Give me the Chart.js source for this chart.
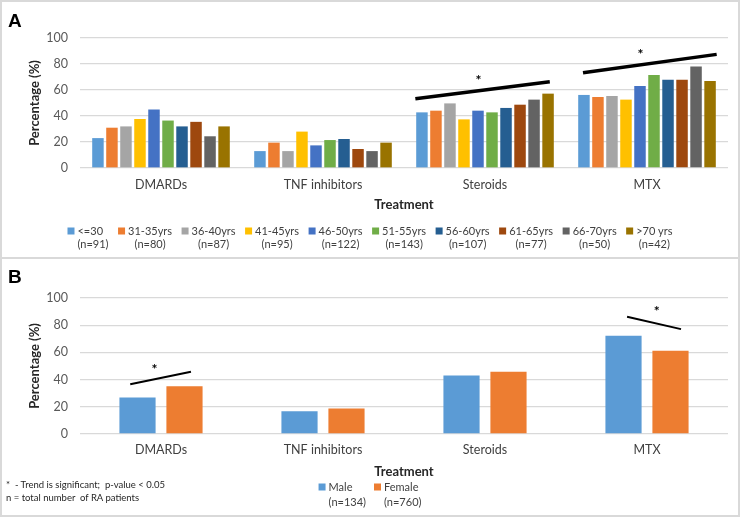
<!DOCTYPE html>
<html>
<head>
<meta charset="utf-8">
<script src="https://cdn.jsdelivr.net/npm/chart.js@4.4.1/dist/chart.umd.min.js"></script>
<style>
  body { margin: 0; background: #fff; }
  #fig { position: relative; width: 740px; height: 517px; background: #d9d9d9; overflow: hidden; font-family: Lato, sans-serif; }
  .panel { position: absolute; left: 2px; width: 736px; background: #fff; }
  #pa { top: 2px; height: 255px; }
  #pb { top: 259px; height: 256px; }
  .tag { position: absolute; left: 6px; font: bold 19px "Liberation Sans", Arial, sans-serif; line-height: 19px; color: #000; }
  .note { position: absolute; left: 4px; font-size: 9.5px; line-height: 12px; color: #262626; white-space: pre; }
</style>
</head>
<body>
<div id="fig">
  <div class="panel" id="pa">
    <canvas id="chartA" width="736" height="255"></canvas>
    <div class="tag" style="top:9px">A</div>
  </div>
  <div class="panel" id="pb">
    <canvas id="chartB" width="736" height="256"></canvas>
    <div class="tag" style="top:8px">B</div>
    <div class="note" style="top:220px">*  - Trend is significant;  p-value &lt; 0.05</div>
    <div class="note" style="top:233px">n = total number  of RA patients</div>
  </div>
</div>
<script>
// categories
const treatments = ['DMARDs', 'TNF inhibitors', 'Steroids', 'MTX'];

// panel A: age groups
const ageGroups = ['<=30', '31-35yrs', '36-40yrs', '41-45yrs', '46-50yrs', '51-55yrs', '56-60yrs', '61-65yrs', '66-70yrs', '>70 yrs'];
const ageCounts = ['(n=91)', '(n=80)', '(n=87)', '(n=95)', '(n=122)', '(n=143)', '(n=107)', '(n=77)', '(n=50)', '(n=42)'];
const ageColors = ['#5B9BD5', '#ED7D31', '#A5A5A5', '#FFC000', '#4472C4', '#70AD47', '#255E91', '#9E480E', '#636363', '#997300'];
const ageValues = [
  [23, 13, 42.8, 56.2],
  [31, 19.5, 44.1, 54.6],
  [32, 13, 49.7, 55.4],
  [37.7, 28, 37.4, 52.6],
  [45, 17.4, 44.1, 63.1],
  [36.5, 21.5, 42.8, 71.5],
  [32, 22.3, 46.2, 67.9],
  [35.5, 14.6, 48.7, 67.9],
  [24.4, 13, 52.6, 78],
  [32, 19.5, 57.2, 66.9]
];

// panel B: sex
const sexGroups = ['Male', 'Female'];
const sexCounts = ['(n=134)', '(n=760)'];
const sexColors = ['#5B9BD5', '#ED7D31'];
const sexValues = [
  [26.8, 16.7, 43, 72.2],
  [35.1, 18.7, 45.7, 61.2]
];

// significant trends (category index, offsets in category units, values in %)
const trendsA = [
  { cat: 2, x1: -0.43, x2: 0.40, y1: 53.3, y2: 66.4, sx: -0.04, sy: 67 },
  { cat: 3, x1: -0.395, x2: 0.43, y1: 73.3, y2: 87.4, sx: -0.04, sy: 87.5 }
];
const trendsB = [
  { cat: 0, x1: -0.19, x2: 0.185, y1: 36.6, y2: 45.7, sx: -0.04, sy: 47.5 },
  { cat: 3, x1: -0.123, x2: 0.21, y1: 86.2, y2: 77.1, sx: 0.06, sy: 90 }
];

const yTicks = { min: 0, max: 100, step: 20 };

function trendPlugin(lines, width) {
  return {
    id: 'trend',
    afterDatasetsDraw(chart) {
      const { ctx, scales: { x, y } } = chart;
      ctx.save();
      ctx.strokeStyle = '#000';
      ctx.lineWidth = width;
      lines.forEach(t => {
        ctx.beginPath();
        ctx.moveTo(x.getPixelForValue(t.cat + t.x1), y.getPixelForValue(t.y1));
        ctx.lineTo(x.getPixelForValue(t.cat + t.x2), y.getPixelForValue(t.y2));
        ctx.stroke();
        ctx.fillStyle = '#000';
        ctx.font = 'bold 14px Lato';
        ctx.textAlign = 'center';
        ctx.textBaseline = 'middle';
        ctx.fillText('*', x.getPixelForValue(t.cat + t.sx), y.getPixelForValue(t.sy));
      });
      ctx.restore();
    }
  };
}

// two-line legend (label + n) centred under the chart
function rowLegend(counts, row1, row2, spacing) {
  return {
    id: 'rowLegend',
    afterDraw(chart) {
      const ctx = chart.ctx;
      ctx.save();
      ctx.font = '11px Lato';
      const box = 7, gap = 3;
      const items = chart.data.datasets.map((d, i) => ({
        d: d,
        n: counts[i],
        w: Math.max(ctx.measureText(d.label).width, ctx.measureText(counts[i]).width)
      }));
      const total = items.reduce((s, it) => s + box + gap + it.w, 0) + spacing * (items.length - 1);
      let x = chart.width / 2 - total / 2;
      items.forEach(it => {
        ctx.fillStyle = it.d.backgroundColor;
        ctx.fillRect(x, row1 - box / 2, box, box);
        ctx.fillStyle = '#404040';
        ctx.textBaseline = 'middle';
        ctx.textAlign = 'left';
        ctx.fillText(it.d.label, x + box + gap, row1);
        ctx.textAlign = 'center';
        ctx.fillText(it.n, x + box + gap + it.w / 2, row2);
        x += box + gap + it.w + spacing;
      });
      ctx.restore();
    }
  };
}

function makeChart(id, labels, values, colors, cfg) {
  const datasets = labels.map((l, i) => ({
    label: l,
    data: values[i],
    backgroundColor: colors[i],
    categoryPercentage: cfg.catPct,
    barPercentage: cfg.barPct
  }));
  return new Chart(document.getElementById(id).getContext('2d'), {
    type: 'bar',
    data: { labels: treatments, datasets: datasets },
    options: {
      responsive: false,
      animation: false,
      layout: { padding: { left: 0, right: 10, top: cfg.top, bottom: 0 } },
      plugins: { legend: { display: false }, tooltip: { enabled: false } },
      scales: {
        x: {
          grid: { display: false, drawTicks: false },
          border: { display: false },
          ticks: { padding: cfg.tickPad, color: '#404040', font: { family: 'Lato', size: 12.5 } },
          title: {
            display: true,
            text: 'Treatment',
            color: '#262626',
            font: { family: 'Lato', size: 13, weight: 'bold' },
            padding: { top: 0, bottom: cfg.titlePad }
          },
          afterFit(s) { s.height = cfg.xHeight; }
        },
        y: {
          min: yTicks.min,
          max: yTicks.max,
          ticks: { stepSize: yTicks.step, padding: 12, color: '#595959', font: { family: 'Lato', size: 12.5 } },
          grid: { color: '#d9d9d9', lineWidth: 1.3, drawTicks: false },
          border: { display: false },
          title: {
            display: true,
            text: 'Percentage (%)',
            color: '#262626',
            font: { family: 'Lato', size: 13, weight: 'bold' },
            padding: { top: 25, bottom: 0 }
          },
          afterFit(s) { s.width = 78; }
        }
      }
    },
    plugins: [trendPlugin(cfg.trends, cfg.lineW), rowLegend(cfg.counts, cfg.row1, cfg.row2, cfg.spacing)]
  });
}

makeChart('chartA', ageGroups, ageValues, ageColors, {
  catPct: 0.865, barPct: 0.82, top: 36, tickPad: 9, titlePad: 44, xHeight: 89,
  trends: trendsA, lineW: 3.5, counts: ageCounts, row1: 229, row2: 242, spacing: 9.5
});
makeChart('chartB', sexGroups, sexValues, sexColors, {
  catPct: 0.58, barPct: 0.77, top: 39, tickPad: 8, titlePad: 35, xHeight: 81,
  trends: trendsB, lineW: 2, counts: sexCounts, row1: 228, row2: 243, spacing: 8
});
</script>
</body>
</html>
